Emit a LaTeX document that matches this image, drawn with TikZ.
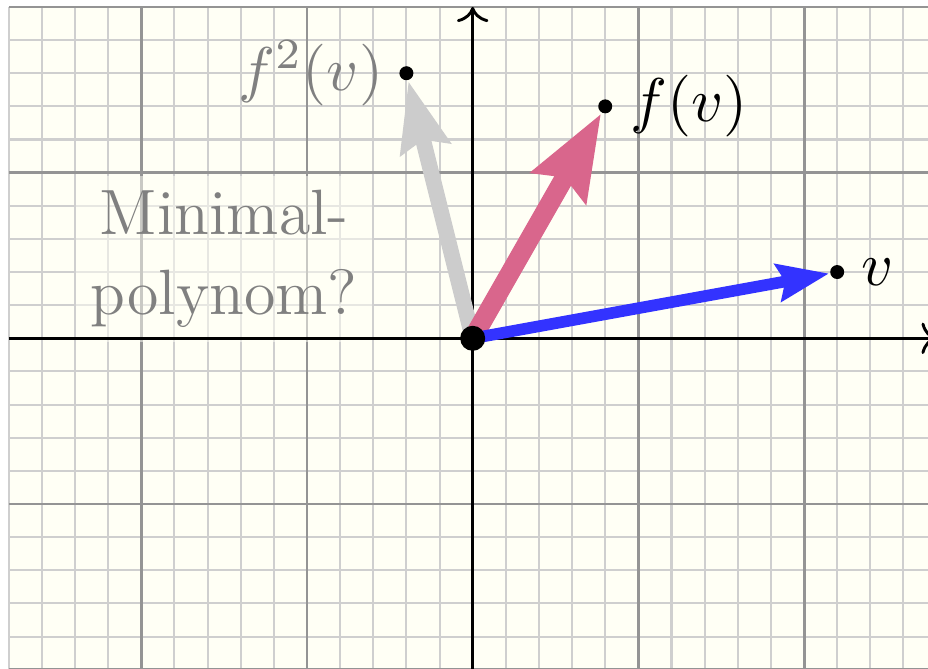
\RequirePackage{fix-cm}
\documentclass[tikz,border=0pt]{standalone}
\usepackage{amsmath}
\usepackage{tikz}
\usepackage{xcolor}
\usetikzlibrary{arrows.meta,positioning}

\definecolor{paper}{RGB}{255,255,245}
\definecolor{vblue}{RGB}{51,51,255}
\definecolor{fpink}{RGB}{217,102,140}
\definecolor{ffgray}{RGB}{204,204,204}
\definecolor{labelgray}{RGB}{128,128,128}

\tikzset{
  minorgrid/.style={line width=0.35pt, black!19},
  majorgrid/.style={line width=0.5pt, black!42},
  axis/.style={line width=0.5pt, -{To[length=2.6pt,width=5.4pt]}},
  vec/.style={-{Stealth[length=0pt 4.4, width'=0pt 0.72, inset'=0pt 0.13]}},
  dot/.style={circle, fill=black, inner sep=0pt, minimum size=2.4pt},
  lbl/.style={inner sep=0pt, font=\fontsize{10.6}{12}\selectfont},
}

\begin{document}
\begin{tikzpicture}[font=\fontsize{11}{13.6}\selectfont]
  % visible window
  \clip (-2.853,-1.990) rectangle (2.748,2.042);
  \fill[paper] (-2.8,-2) rectangle (2.8,2);

  % squared paper
  \draw[minorgrid] (-2.8,-2) grid[step=0.2] (2.8,2);
  \draw[majorgrid] (-2.8,-2) grid[step=1] (2.8,2);

  % question, on a faded patch of paper
  \node[fill=paper, fill opacity=0.5, text opacity=1, text=labelgray,
        align=center, inner sep=2.5pt] (question) at (-1.5,0.48) {Minimal-\\polynom?};

  % axes
  \draw[axis] (-2.8,0) -- (2.8,0);
  \draw[axis] (0,-2) -- (0,2);

  % v, f(v), f^2(v)
  \coordinate (origin) at (0,0);
  \node[dot] (v) at (2.2,0.4) {};
  \node[dot] (fv) at (0.8,1.4) {};
  \node[dot] (ffv) at (-0.4,1.6) {};

  \draw[vec, ffgray, line width=2.7pt] (origin) -- (ffv);
  \draw[vec, fpink, line width=3.3pt] (origin) -- (fv);
  \draw[vec, vblue, line width=2pt] (origin) -- (v);

  \node[dot, minimum size=4.3pt] (O) at (origin) {};

  % labels
  \node[lbl, right=2.6pt of v] (vlabel) {$v$};
  \node[lbl, right=2.8pt of fv] (fvlabel) {$f(v)$};
  \node[lbl, left=2.4pt of ffv, text=labelgray] (ffvlabel) {$f^2(v)$};
\end{tikzpicture}
\end{document}
